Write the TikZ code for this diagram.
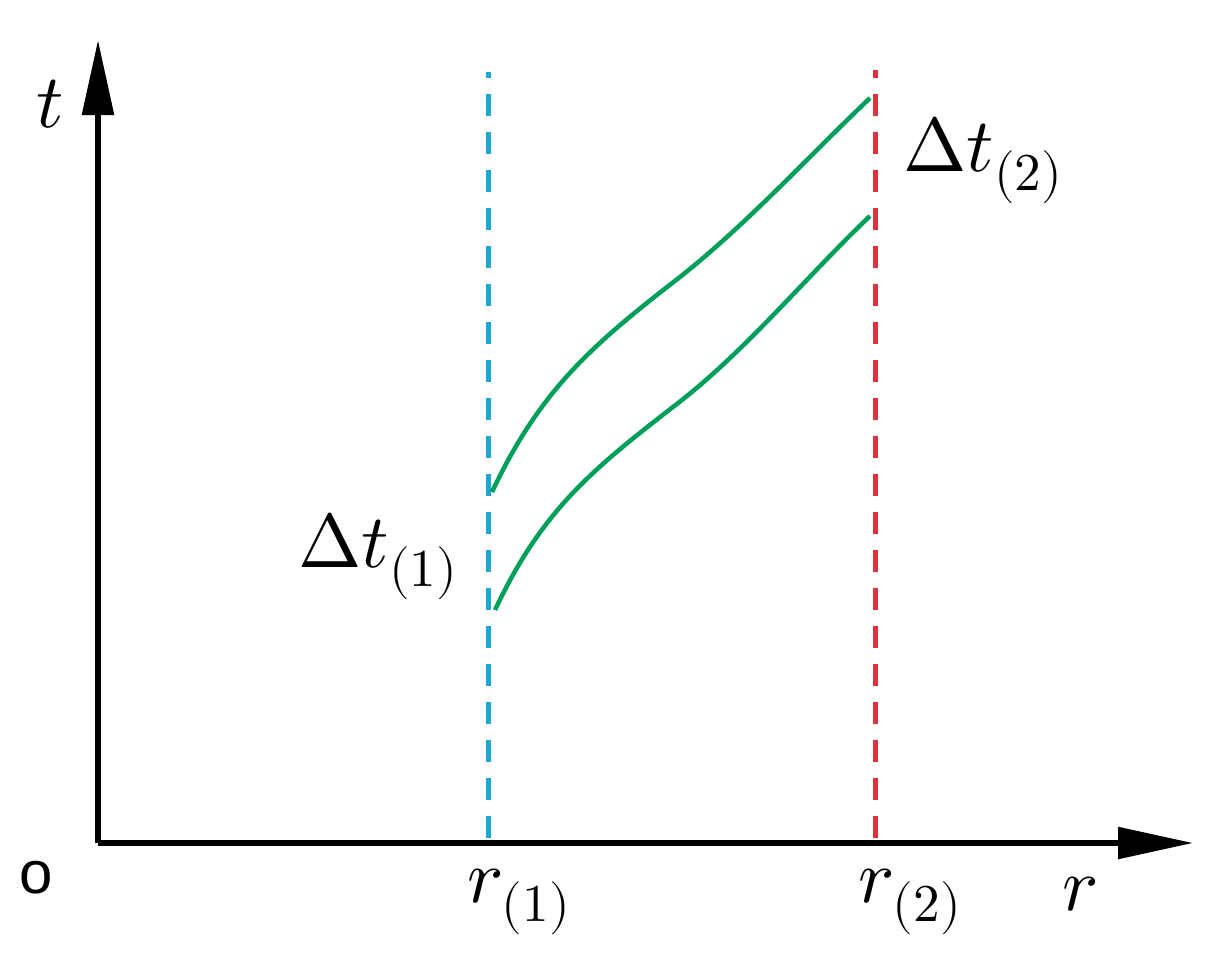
\documentclass[tikz,border=0pt]{standalone}
\usepackage{fontspec}
\usepackage{unicode-math}
\newfontfamily\osans{Liberation Sans}
\usetikzlibrary{arrows.meta}
\definecolor{cblue}{HTML}{1BA8D4}
\definecolor{cred}{HTML}{E0323C}
\definecolor{cgreen}{HTML}{00A05A}
\begin{document}
\begin{tikzpicture}[x=1pt,y=-1pt,
  axis/.style={line width=5.5pt,-{Triangle[length=75pt,width=31pt]}},
  guide/.style={line width=5pt,dash pattern=on 22pt off 16pt},
  curve/.style={line width=4.5pt,cgreen},
  lbl/.style={inner sep=0pt,font=\fontsize{76}{80}\selectfont}]
\useasboundingbox (0,0) rectangle (1208,953);
\coordinate (O) at (98,843);
\coordinate (Ytip) at (98,40);
\coordinate (Xtip) at (1193,843);
\coordinate (B0) at (488,838);
\coordinate (B1) at (488,72);
\coordinate (R0) at (875,838);
\coordinate (R1) at (875,70);
\draw[guide,cblue] (B0) -- (B1);
\draw[guide,cred] (R0) -- (R1);
\draw[axis] (O) -- (Ytip);
\draw[axis] (O) -- (Xtip);
\coordinate (U0) at (492,492);
\coordinate (U1) at (680,277);
\coordinate (U2) at (870,98);
\coordinate (L0) at (495,610);
\coordinate (L1) at (682,400);
\coordinate (L2) at (870,216);
\draw[curve] (U0) .. controls (540,390) and (592,345) .. (U1) .. controls (748,223) and (807,158) .. (U2);
\draw[curve] (L0) .. controls (543,508) and (594,468) .. (L1) .. controls (750,346) and (807,276) .. (L2);
\node[lbl] (tl) at (50,104) {$t$};
\node[lbl] (rl) at (1080,894) {$r$};
\node[lbl,font=\osans\fontsize{60}{64}\selectfont] (ol) at (36,878) {o};
\node[lbl] (r1) at (519,902) {$r_{(1)}$};
\node[lbl] (r2) at (910,902) {$r_{(2)}$};
\node[lbl] (d1) at (378,556) {$\Delta t_{(1)}$};
\node[lbl] (d2) at (983,160) {$\Delta t_{(2)}$};
\end{tikzpicture}
\end{document}
